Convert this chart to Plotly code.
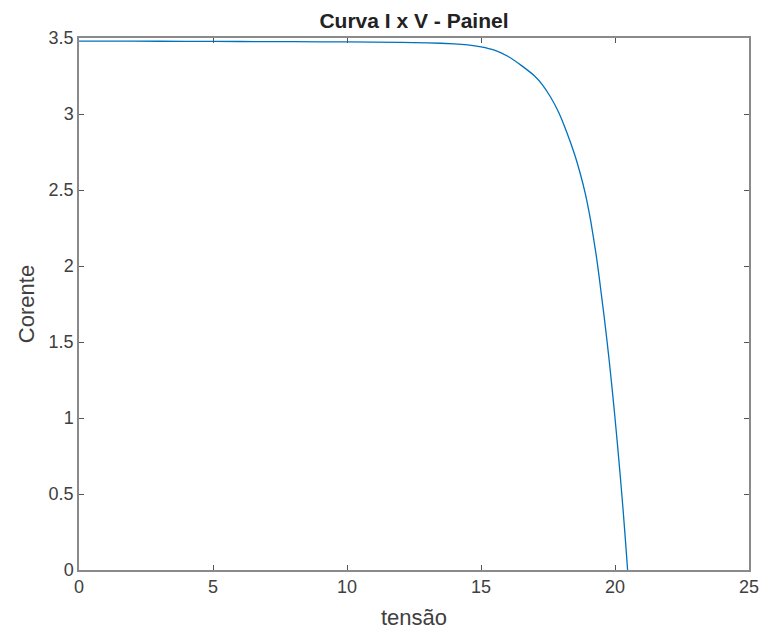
import plotly.graph_objects as go

tensao = [0, 2, 4, 6, 8, 10, 12, 13, 14, 14.5, 15, 15.5, 16, 16.5, 17, 17.3, 17.6,
          17.9, 18.2, 18.5, 18.7, 18.9, 19.1, 19.3, 19.4, 19.5, 19.6, 19.7, 19.8,
          19.9, 20.0, 20.1, 20.2, 20.3, 20.4, 20.47]
corrente = [3.48, 3.479, 3.478, 3.477, 3.476, 3.474, 3.471, 3.468, 3.462, 3.455,
            3.442, 3.42, 3.38, 3.32, 3.25, 3.19, 3.11, 3.01, 2.88, 2.73, 2.61,
            2.47, 2.29, 2.07, 1.94, 1.80, 1.66, 1.51, 1.35, 1.18, 1.00, 0.81,
            0.61, 0.40, 0.17, 0.0]

x_ticks = [0, 5, 10, 15, 20, 25]
y_ticks = [0, 0.5, 1, 1.5, 2, 2.5, 3, 3.5]

FONT = "Liberation Sans, Arial, Helvetica"

fig = go.Figure()
fig.add_trace(go.Scatter(x=tensao, y=corrente, mode="lines",
                         line=dict(color="#0072BD", width=1.3, shape="spline", smoothing=0.5),
                         showlegend=False))

axis_common = dict(showline=True, linecolor="#8a8a8a", linewidth=1.5, mirror="ticks",
                   ticks="inside", ticklen=5, tickcolor="#555555", showgrid=False,
                   zeroline=False, automargin=False,
                   tickfont=dict(family=FONT, size=18, color="#404040"))

# Page has an 8px body margin: figure occupies 752x622 starting at (8, 8)
fig.update_layout(
    width=752, height=622,
    margin=dict(l=71, r=11, t=30, b=60),
    paper_bgcolor="white", plot_bgcolor="white",
    title=dict(text="<b>Curva I x V - Painel</b>", x=(71 + 335) / 752, xanchor="center",
               y=1 - 13 / 622, yanchor="middle",
               font=dict(family=FONT, size=21, color="#222222")),
    xaxis=dict(range=[0, 25], tickvals=x_ticks, ticktext=[str(v) for v in x_ticks],
               title=dict(text="tensão", font=dict(family=FONT, size=22, color="#404040"), standoff=20),
               **axis_common),
    yaxis=dict(range=[0, 3.5], tickvals=y_ticks, ticktext=[("%g" % v) for v in y_ticks],
               title=dict(text="Corente", font=dict(family=FONT, size=22, color="#404040"), standoff=8),
               **axis_common),
)

fig.write_html("out.html")
